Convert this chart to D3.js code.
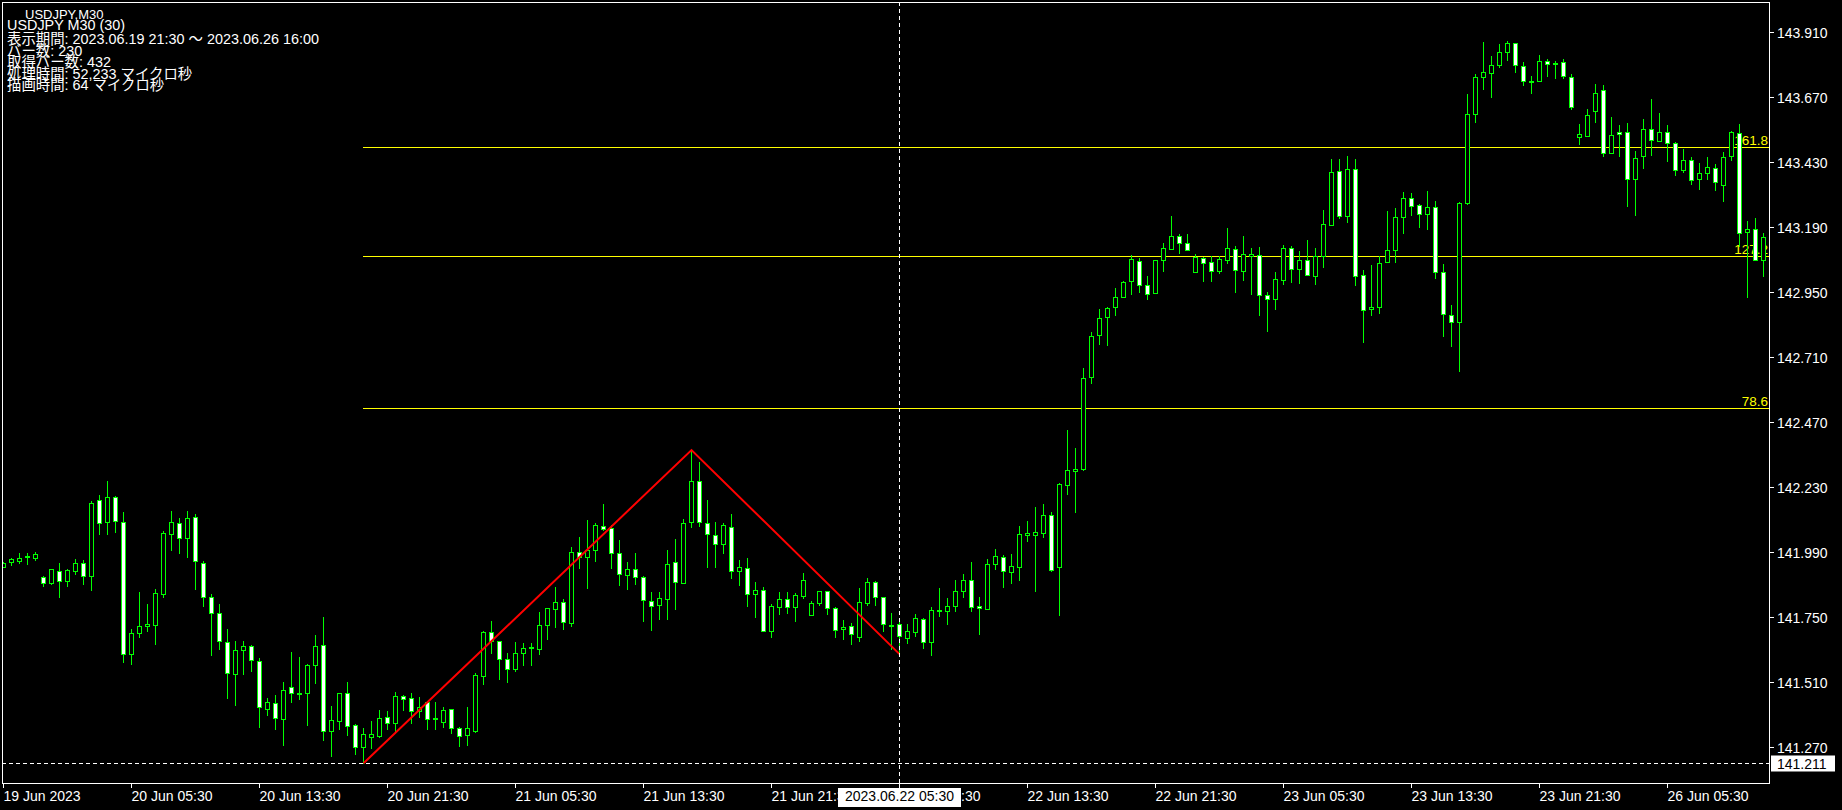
<!DOCTYPE html>
<html><head><meta charset="utf-8">
<script src="https://cdn.jsdelivr.net/npm/d3@7"></script>
<style>html,body{margin:0;padding:0;background:#000;overflow:hidden}</style>
</head><body>
<script>
// ---- data (USDJPY M30, bar index 0 = 19 Jun 21:30) ----
const opens = [141.936,141.953,141.958,141.971,141.970,141.897,141.878,141.919,141.885,141.921,141.949,141.904,142.182,142.101,142.193,142.103,141.615,141.691,141.717,141.722,141.834,142.056,142.097,142.044,142.119,141.949,141.824,141.767,141.660,141.539,141.628,141.643,141.590,141.413,141.432,141.376,141.491,141.469,141.469,141.575,141.646,141.331,141.368,141.469,141.351,141.270,141.309,141.313,141.381,141.359,141.458,141.451,141.403,141.436,141.373,141.365,141.410,141.341,141.315,141.331,141.534,141.695,141.661,141.597,141.560,141.617,141.635,141.634,141.720,141.779,141.805,141.730,141.990,141.973,141.997,142.088,142.078,141.986,141.907,141.927,141.899,141.809,141.796,141.818,141.955,141.877,142.101,142.252,142.099,142.055,142.019,142.084,141.919,141.931,141.835,141.850,141.699,141.787,141.818,141.787,141.827,141.757,141.804,141.846,141.783,141.705,141.717,141.678,141.804,141.881,141.823,141.722,141.724,141.675,141.695,141.743,141.658,141.772,141.772,141.793,141.848,141.887,141.791,141.782,141.945,141.973,141.918,141.937,142.054,142.055,142.062,142.126,141.937,142.239,142.290,142.298,142.636,142.791,142.857,142.894,142.931,142.990,143.064,142.975,142.946,143.067,143.110,143.156,143.130,143.023,143.075,143.060,143.027,143.067,143.109,143.027,143.083,143.086,142.938,142.923,142.994,143.112,143.034,143.067,143.008,143.082,143.197,143.396,143.230,143.403,143.012,142.886,142.894,143.060,143.104,143.226,143.296,143.270,143.237,143.263,143.023,142.864,142.839,143.280,143.606,143.743,143.757,143.787,143.835,143.868,143.783,143.727,143.728,143.802,143.791,143.798,143.743,143.521,143.527,143.617,143.695,143.462,143.540,143.540,143.366,143.451,143.551,143.507,143.540,143.499,143.399,143.436,143.366,143.388,143.407,143.344,143.451,143.536,143.171,143.184,143.067];
const highs = [141.954,141.969,141.987,141.987,141.991,141.902,141.929,141.950,141.929,141.965,141.961,142.178,142.202,142.253,142.198,142.139,141.708,141.843,141.799,141.854,142.067,142.142,142.116,142.142,142.131,141.956,141.835,141.798,141.707,141.661,141.661,141.648,141.599,141.451,141.463,141.511,141.622,141.603,141.577,141.684,141.751,141.423,141.469,141.511,141.356,141.342,141.367,141.408,141.404,141.474,141.462,141.469,141.455,141.438,141.437,141.419,141.413,141.345,141.420,141.545,141.699,141.736,141.661,141.619,141.659,141.654,141.654,141.769,141.783,141.861,141.816,142.008,142.045,142.110,142.097,142.168,142.092,142.035,141.954,141.987,141.903,141.842,141.842,141.997,142.039,142.111,142.367,142.323,142.183,142.102,142.097,142.131,141.961,141.969,141.879,141.862,141.800,141.842,141.842,141.838,141.912,141.811,141.846,141.848,141.789,141.739,141.728,141.857,141.895,141.885,141.823,141.765,141.740,141.725,141.761,141.747,141.787,141.857,141.820,141.888,141.908,141.954,141.825,141.965,142.002,141.980,141.983,142.087,142.105,142.157,142.167,142.137,142.244,142.441,142.375,142.670,142.803,142.888,142.894,142.965,142.991,143.086,143.076,143.009,143.067,143.130,143.231,143.164,143.164,143.091,143.081,143.082,143.082,143.186,143.120,143.156,143.113,143.116,142.950,143.024,143.123,143.120,143.102,143.142,143.113,143.253,143.441,143.441,143.452,143.441,143.031,143.049,143.082,143.249,143.260,143.319,143.316,143.275,143.323,143.286,143.054,142.901,143.281,143.681,143.755,143.873,143.820,143.866,143.877,143.868,143.798,143.746,143.824,143.809,143.802,143.809,143.754,143.570,143.626,143.718,143.713,143.595,143.567,143.574,143.471,143.589,143.663,143.611,143.566,143.503,143.477,143.448,143.425,143.448,143.422,143.466,143.545,143.569,143.212,143.222,143.167];
const lows = [141.934,141.943,141.950,141.947,141.961,141.867,141.871,141.823,141.867,141.910,141.874,141.852,142.058,142.058,142.066,141.586,141.578,141.678,141.700,141.652,141.823,141.999,141.988,141.971,141.855,141.793,141.612,141.634,141.453,141.427,141.541,141.553,141.346,141.390,141.338,141.280,141.438,141.448,141.352,141.508,141.298,141.239,141.339,141.315,141.246,141.211,141.269,141.309,141.339,141.328,141.408,141.361,141.383,141.339,141.338,141.345,141.322,141.275,141.277,141.328,141.504,141.619,141.521,141.510,141.551,141.575,141.575,141.613,141.671,141.715,141.705,141.718,141.933,141.859,141.959,142.073,141.933,141.870,141.854,141.874,141.737,141.704,141.745,141.745,141.780,141.877,142.084,142.087,141.937,141.937,141.988,141.896,141.870,141.793,141.752,141.698,141.678,141.762,141.767,141.737,141.820,141.757,141.796,141.761,141.678,141.668,141.650,141.661,141.796,141.797,141.698,141.634,141.614,141.655,141.682,141.638,141.611,141.756,141.726,141.774,141.823,141.774,141.689,141.782,141.929,141.862,141.878,141.888,142.031,141.848,142.047,141.921,141.758,142.206,142.139,142.293,142.616,142.758,142.756,142.867,142.931,142.944,142.951,142.926,142.946,143.029,143.108,143.095,143.104,143.023,142.992,142.992,143.019,143.056,142.951,142.996,142.944,142.867,142.808,142.889,142.981,142.988,142.985,143.012,142.981,143.044,143.197,143.225,143.210,142.977,142.767,142.867,142.874,143.060,143.062,143.169,143.235,143.190,143.182,143.002,142.789,142.752,142.660,143.276,143.579,143.701,143.671,143.780,143.808,143.763,143.715,143.686,143.728,143.748,143.741,143.739,143.625,143.498,143.527,143.579,143.453,143.462,143.453,143.267,143.233,143.409,143.457,143.507,143.435,143.383,143.394,143.350,143.332,143.369,143.328,143.287,143.439,143.120,142.933,143.067,143.010];
const closes = [141.951,141.965,141.969,141.976,141.983,141.878,141.927,141.885,141.924,141.949,141.904,142.171,142.097,142.193,142.104,141.614,141.691,141.717,141.725,141.839,142.061,142.101,142.041,142.115,141.956,141.824,141.765,141.661,141.543,141.628,141.643,141.591,141.418,141.436,141.377,141.480,141.469,141.469,141.573,141.643,141.329,141.370,141.469,141.350,141.270,141.318,141.318,141.377,141.359,141.458,141.447,141.403,141.418,141.376,141.378,141.408,141.340,141.313,141.341,141.537,141.696,141.661,141.597,141.560,141.617,141.638,141.639,141.720,141.783,141.805,141.731,141.990,141.971,141.997,142.089,142.077,141.986,141.908,141.927,141.900,141.813,141.791,141.820,141.945,141.879,142.097,142.252,142.101,142.056,142.019,142.089,141.919,141.935,141.835,141.850,141.698,141.791,141.818,141.787,141.832,141.887,141.802,141.846,141.783,141.703,141.715,141.687,141.807,141.881,141.824,141.725,141.720,141.680,141.698,141.746,141.658,141.776,141.777,141.793,141.846,141.887,141.787,141.783,141.945,141.975,141.919,141.938,142.056,142.060,142.064,142.126,141.925,142.241,142.292,142.297,142.632,142.787,142.853,142.890,142.931,142.986,143.071,142.975,142.944,143.067,143.112,143.156,143.130,143.104,143.080,143.057,143.027,143.072,143.112,143.030,143.090,143.091,142.938,142.923,142.997,143.112,143.034,143.067,143.012,143.082,143.200,143.392,143.230,143.403,143.008,142.883,142.894,143.056,143.104,143.226,143.296,143.267,143.237,143.263,143.023,142.868,142.839,143.278,143.606,143.743,143.761,143.787,143.835,143.868,143.787,143.728,143.730,143.802,143.791,143.794,143.746,143.632,143.533,143.603,143.684,143.462,143.529,143.532,143.366,143.444,143.551,143.510,143.540,143.499,143.399,143.436,143.363,143.388,143.411,143.355,143.448,143.540,143.167,143.182,143.067,143.152];

const priceTicks = [143.910,143.670,143.430,143.190,142.950,142.710,142.470,142.230,141.990,141.750,141.510,141.270];
const timeTickIndex = [0,16,32,48,64,80,96,112,128,144,160,176,192,208];
const timeTickLabels = ["19 Jun 2023","20 Jun 05:30","20 Jun 13:30","20 Jun 21:30","21 Jun 05:30","21 Jun 13:30","21 Jun 21:30","22 Jun 05:30","22 Jun 13:30","22 Jun 21:30","23 Jun 05:30","23 Jun 13:30","23 Jun 21:30","26 Jun 05:30"];

const zigzagIndex = [45,86,112];
const zigzagPrice = [141.211,142.367,141.614];
const fibLabels = ["78.6","127.2","161.8"];
const fibRatios = [0.786,1.272,1.618];

const crossIndex = 112;
const crossPrice = 141.211;
const crossTimeLabel = "2023.06.22 05:30";
const crossPriceLabel = "141.211";

const infoLines = ["USDJPY,M30","USDJPY M30 (30)","表示期間: 2023.06.19 21:30 ～ 2023.06.26 16:00","バー数: 230","取得バー数: 432","処理時間: 52,233 マイクロ秒","描画時間: 64 マイクロ秒"];

// ---- drawing ----
const W = 1842, H = 810;
const P = {l: 2, t: 2, r: 1769, b: 783};
const svg = d3.select("body").append("svg").attr("width", W).attr("height", H)
  .style("display","block").style("background","#000");

const x = d3.scaleLinear().domain([0, 220]).range([3, 1763]);
const y = d3.scaleLinear().domain([141.27, 143.91]).range([747.3, 32]);
const AX = "'Liberation Sans', Arial, sans-serif";

svg.append("defs").append("clipPath").attr("id","plotclip")
  .append("rect").attr("x", P.l+1).attr("y", P.t+1).attr("width", P.r-P.l-1).attr("height", P.b-P.t-1);

const plot = svg.append("g").attr("clip-path","url(#plotclip)");

// fibonacci expansion levels
const A = zigzagPrice[0], B = zigzagPrice[1], C = zigzagPrice[2];
const fib = plot.append("g");
fibRatios.forEach((r, k) => {
  const py = Math.round(y(C + r * (B - A))) + 0.5;
  fib.append("line").attr("x1", Math.round(x(zigzagIndex[0]))).attr("x2", P.r)
    .attr("y1", py).attr("y2", py).attr("stroke", "#ffff00").attr("stroke-width", 1);
  fib.append("text").attr("x", P.r - 1).attr("y", py - 3).attr("text-anchor","end")
    .attr("fill","#ffff00").style("font-family", AX).style("font-size","13.5px").text(fibLabels[k]);
});

// candles
const idx = d3.range(opens.length);
const cg = plot.append("g");
idx.forEach(i => {
  const cx = Math.round(x(i));
  const o = opens[i], c = closes[i], h = highs[i], l = lows[i];
  const yh = Math.round(y(h)), yl = Math.round(y(l));
  cg.append("rect").attr("x", cx).attr("y", yh).attr("width", 1).attr("height", Math.max(1, yl - yh + 1)).attr("fill", "#00ff00");
  let top = Math.round(y(Math.max(o, c))), bot = Math.round(y(Math.min(o, c)));
  if (bot - top < 1) bot = top + 1;
  const bear = c < o;
  cg.append("rect").attr("x", cx - 1.5).attr("y", top + 0.5).attr("width", 4).attr("height", bot - top)
    .attr("fill", bear ? "#ffffff" : "#000000").attr("stroke", "#00ff00").attr("stroke-width", 1);
});

// zigzag
plot.append("path")
  .datum(zigzagIndex.map((d, k) => [x(d) + 0.5, y(zigzagPrice[k])]))
  .attr("d", d3.line()).attr("fill","none").attr("stroke","#ff0000").attr("stroke-width", 2);

// crosshair
const chx = Math.round(x(crossIndex)) + 0.5;
const chy = Math.round(y(crossPrice)) + 0.5;
plot.append("line").attr("x1", chx).attr("x2", chx).attr("y1", P.t).attr("y2", P.b)
  .attr("stroke","#fff").attr("stroke-width",1).attr("stroke-dasharray","4,3");
plot.append("line").attr("x1", P.l).attr("x2", P.r).attr("y1", chy).attr("y2", chy)
  .attr("stroke","#fff").attr("stroke-width",1).attr("stroke-dasharray","4,3");

// border
svg.append("rect").attr("x", P.l + 0.5).attr("y", P.t + 0.5).attr("width", P.r - P.l).attr("height", P.b - P.t)
  .attr("fill","none").attr("stroke","#fff").attr("stroke-width",1);

// right price axis
const ra = svg.append("g");
priceTicks.forEach(p => {
  const py = Math.round(y(p)) + 0.5;
  ra.append("line").attr("x1", P.r + 1).attr("x2", P.r + 5).attr("y1", py).attr("y2", py).attr("stroke","#fff");
  ra.append("text").attr("x", 1777).attr("y", py + 5).attr("fill","#fff")
    .style("font-family", AX).style("font-size","14px").text(p.toFixed(3));
});

// bottom time axis
const ba = svg.append("g");
timeTickIndex.forEach((t, k) => {
  const tx = Math.round(x(t)) + 0.5;
  ba.append("line").attr("x1", tx).attr("x2", tx).attr("y1", P.b + 1).attr("y2", P.b + 5).attr("stroke","#fff");
  ba.append("text").attr("x", tx).attr("y", 801).attr("fill","#fff")
    .style("font-family", AX).style("font-size","14px").text(timeTickLabels[k]);
});

// crosshair labels
const tl = ba.append("text").attr("y", 801).attr("fill","#000").attr("text-anchor","middle")
  .attr("x", chx).style("font-family", AX).style("font-size","14px").text(crossTimeLabel);
const tw = tl.node().getComputedTextLength();
ba.insert("rect", function(){ return tl.node(); }).attr("x", Math.round(chx - tw/2 - 7)).attr("y", 788)
  .attr("width", Math.round(tw + 14)).attr("height", 19).attr("fill","#fff");

const pl = ra.append("text").attr("x", 1777).attr("y", chy + 5).attr("fill","#000")
  .style("font-family", AX).style("font-size","14px").text(crossPriceLabel);
ra.insert("rect", function(){ return pl.node(); }).attr("x", P.r + 2).attr("y", chy - 8)
  .attr("width", 64).attr("height", 16).attr("fill","#fff");

// info text
const info = svg.append("g").style("font-family", "'Liberation Sans','Noto Sans CJK JP',sans-serif").attr("fill","#fff");
const infoY = [19, 29.5, 44, 55.5, 67, 78.5, 90];
infoLines.forEach((s, k) => {
  info.append("text").attr("x", k === 0 ? 25 : 7).attr("y", infoY[k])
    .style("font-size", k === 0 ? "13px" : "14.4px").text(s);
});
</script>
</body></html>
